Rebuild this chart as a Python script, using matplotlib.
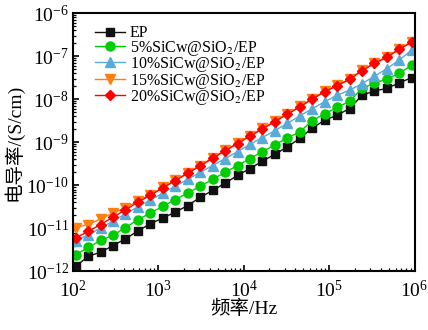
import numpy as np
import matplotlib
matplotlib.use("Agg")
import matplotlib.pyplot as plt

plt.rcParams.update({
    "font.family": ["Liberation Serif", "Noto Sans CJK SC"],
    "mathtext.fontset": "stix",
    "font.size": 13,
    "axes.linewidth": 1.5,
})

# frequency (Hz)
freq = [107.5, 150.5, 210.5, 294.4, 411.8, 576.0, 805.9, 1127, 1577, 2206,
        3086, 4317, 6039, 8448, 11817, 16531, 23125, 32350, 45260, 63310,
        88560, 123900, 173300, 242400, 339100, 474400, 663600, 928500]

# log10 of conductivity (S/cm)
ep_log = [-11.88, -11.65, -11.55, -11.40, -11.24, -11.06, -10.89, -10.76, -10.62, -10.47,
          -10.28, -10.12, -9.95, -9.77, -9.61, -9.44, -9.28, -9.11, -8.91, -8.67,
          -8.49, -8.37, -8.22, -7.91, -7.81, -7.75, -7.62, -7.50]
s5_log = [-11.61, -11.44, -11.28, -11.16, -10.98, -10.80, -10.64, -10.49, -10.33, -10.18,
          -10.02, -9.86, -9.70, -9.54, -9.38, -9.22, -9.06, -8.90, -8.76, -8.50,
          -8.34, -8.19, -8.05, -7.75, -7.63, -7.53, -7.40, -7.21]
s10_log = [-11.30, -11.15, -10.99, -10.83, -10.66, -10.50, -10.34, -10.18, -10.02, -9.86,
           -9.70, -9.54, -9.38, -9.22, -9.05, -8.89, -8.73, -8.56, -8.39, -8.22,
           -8.06, -7.91, -7.79, -7.64, -7.47, -7.29, -7.09, -6.86]
s15_log = [-10.98, -10.91, -10.78, -10.64, -10.52, -10.36, -10.22, -10.05, -9.88, -9.71,
           -9.54, -9.36, -9.19, -9.02, -8.85, -8.68, -8.51, -8.34, -8.17, -7.99,
           -7.82, -7.68, -7.53, -7.33, -7.16, -7.02, -6.83, -6.67]
s20_log = [-11.22, -11.07, -10.91, -10.74, -10.57, -10.39, -10.23, -10.06, -9.89, -9.72,
           -9.55, -9.37, -9.20, -9.03, -8.86, -8.69, -8.52, -8.35, -8.18, -8.00,
           -7.83, -7.69, -7.54, -7.34, -7.17, -7.03, -6.84, -6.68]

labels = ["EP", "5%SiCw@SiO$_2$/EP", "10%SiCw@SiO$_2$/EP",
          "15%SiCw@SiO$_2$/EP", "20%SiCw@SiO$_2$/EP"]
series = [ep_log, s5_log, s10_log, s15_log, s20_log]
colors = ["#111111", "#00cc00", "#5aaad8", "#ff7f0e", "#ff0000"]
markers = ["s", "o", "^", "v", "D"]
msizes = [5.5, 6.5, 6.5, 6.5, 5.5]

fig = plt.figure(figsize=(4.28, 3.30), dpi=100)
ax = fig.add_axes([0.1706, 0.1773, 0.7979, 0.7833])

for vals, lab, c, m, ms in zip(series, labels, colors, markers, msizes):
    ax.plot(freq, 10 ** np.array(vals), color=c, marker=m, ms=ms, lw=1.0,
            label=lab)

ax.set_xscale("log")
ax.set_yscale("log")
ax.set_xlim(1e2, 1e6)
ax.set_ylim(1e-12, 1e-6)
ax.tick_params(which="major", direction="in", length=4.5, width=1.2,
               labelsize=14)
ax.tick_params(axis="x", which="major", pad=6)
ax.tick_params(axis="y", which="major", pad=3)
ax.tick_params(which="minor", direction="in", length=2.5, width=0.9)

ax.set_xlabel("频率/Hz", fontsize=14, labelpad=-1)
ax.set_ylabel("电导率/(S/cm)", fontsize=14, labelpad=2)

ax.legend(loc="upper left", bbox_to_anchor=(0.035, 0.99), frameon=False,
          fontsize=11.5, handlelength=1.9, handletextpad=0.3, labelspacing=-0.16,
          borderaxespad=0.2)

fig.savefig("out.png", dpi=100)
